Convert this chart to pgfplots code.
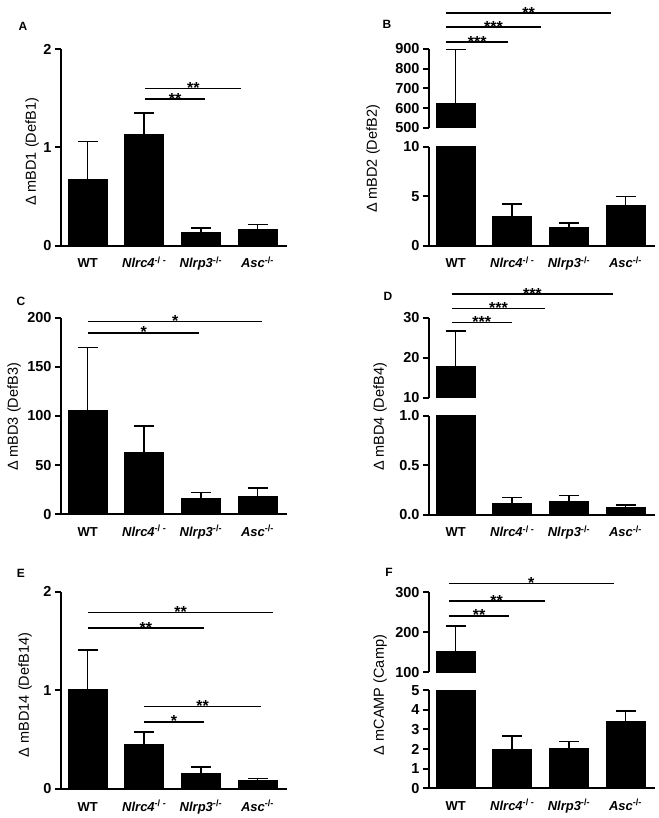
\documentclass[border=0pt]{standalone}
\usepackage{pgfplots}
\pgfplotsset{compat=1.18}
\usepackage{fontspec}
\setmainfont{Liberation Sans}
\newcommand{\fs}[1]{\fontsize{#1}{#1}\selectfont}
\pgfplotsset{
  panel/.style={
    scale only axis, width=226pt,
    xmin=-0.47, xmax=3.52,
    axis lines*=left,
    x axis line style={-, line width=2.4pt},
    y axis line style={-, line width=2.4pt},
    tick align=outside,
    major tick length=6pt,
    ytick style={line width=2pt, black},
    xtick style={draw=none},
    xtick={0,1,2,3},
    xticklabels={WT, \textit{Nlrc4}\textsuperscript{-/ -}, \textit{Nlrp3}\textsuperscript{-/-}, \textit{Asc}\textsuperscript{-/-}},
    xticklabel style={font=\bfseries\fs{13}, anchor=base, yshift=-16pt},
    yticklabel style={font=\bfseries\fs{14.5}},
    /pgf/number format/assume math mode=true,
    anchor=south west,
  },
  upper/.style={axis x line=none, xtick=\empty, clip=false},
  bars/.style={ybar, bar width=39pt, fill=black, draw=black, line width=1pt,
    error bars/.cd, y dir=plus, y explicit, error mark=|,
    error bar style={line width=1.6pt, black},
    error mark options={line width=1.6pt, black, mark size=10pt}},
  erronly/.style={draw=none, mark=none,
    error bars/.cd, y dir=plus, y explicit, error mark=|,
    error bar style={draw=black, line width=1.6pt},
    error mark options={draw=black, line width=1.6pt, mark size=10pt}},
  sig/.style={black, line width=1.5pt, mark=none},
}
\tikzset{star/.style={font=\bfseries\fs{16}, anchor=base, inner sep=0pt, yshift=-5pt},
  ylab/.style={rotate=90, font=\fs{14.5}},
  plab/.style={font=\bfseries\fs{12}}}
\begin{document}
\begin{tikzpicture}
\useasboundingbox (0pt,0pt) rectangle (658pt,818pt);
% ---------------- A ----------------
\begin{axis}[panel, at={(61pt,572pt)}, height=197pt, ymin=0, ymax=2, ytick={0,1,2}, clip=false]
\addplot[bars] coordinates {(0,0.67) +- (0,0.39) (1,1.13) +- (0,0.22) (2,0.14) +- (0,0.04) (3,0.17) +- (0,0.05)};
\addplot[sig] coordinates {(1.02,1.49) (2.07,1.49)};
\addplot[sig] coordinates {(1.02,1.60) (2.71,1.60)};
\node[star] at (axis cs:1.545,1.49) {**};
\node[star] at (axis cs:1.865,1.60) {**};
\end{axis}
\node[ylab] at (32pt,666pt) {Δ mBD1 (DefB1)};
\node[plab] at (23pt,792pt) {A};
% ---------------- B ----------------
\begin{axis}[panel, at={(429pt,572pt)}, height=99pt, ymin=0, ymax=10, ytick={0,5,10}]
\addplot[bars] coordinates {(0,625) +- (0,273) (1,2.93) +- (0,1.31) (2,1.89) +- (0,0.46) (3,4.07) +- (0,0.91)};
\end{axis}
\begin{axis}[panel, upper, at={(429pt,690pt)}, height=79pt, ymin=500, ymax=900, ytick={500,600,...,900}]
\addplot[fill=black, draw=black, line width=1pt] coordinates {(-0.344,500) (0.344,500) (0.344,625) (-0.344,625)} -- cycle;
\addplot[erronly] coordinates {(0,625) +- (0,273)};
\addplot[sig] coordinates {(-0.17,935) (0.93,935)};
\addplot[sig] coordinates {(-0.17,1011) (1.51,1011)};
\addplot[sig] coordinates {(-0.17,1082) (2.75,1082)};
\node[star] at (axis cs:0.38,935) {***};
\node[star] at (axis cs:0.67,1011) {***};
\node[star] at (axis cs:1.29,1082) {**};
\end{axis}
\node[ylab] at (373pt,659pt) {Δ mBD2 (DefB2)};
\node[plab] at (387pt,794pt) {B};
% ---------------- C ----------------
\begin{axis}[panel, at={(61pt,303.7pt)}, height=196.6pt, ymin=0, ymax=200, ytick={0,50,100,150,200}, clip=false]
\addplot[bars] coordinates {(0,106) +- (0,63.5) (1,62.7) +- (0,27.3) (2,15.9) +- (0,6.1) (3,17.9) +- (0,8.9)};
\addplot[sig] coordinates {(0.01,184.5) (1.97,184.5)};
\addplot[sig] coordinates {(0.01,196) (3.08,196)};
\node[star] at (axis cs:0.99,184.5) {*};
\node[star] at (axis cs:1.545,196) {*};
\end{axis}
\node[ylab] at (14pt,401pt) {Δ mBD3 (DefB3)};
\node[plab] at (21pt,517pt) {C};
% ---------------- D ----------------
\begin{axis}[panel, at={(429pt,303pt)}, height=99pt, ymin=0, ymax=1, ytick={0,0.5,1},
  yticklabel style={/pgf/number format/.cd, fixed, fixed zerofill, precision=1}]
\addplot[bars] coordinates {(0,17.75) +- (0,8.95) (1,0.118) +- (0,0.057) (2,0.134) +- (0,0.061) (3,0.074) +- (0,0.026)};
\end{axis}
\begin{axis}[panel, upper, at={(429pt,420.3pt)}, height=80pt, ymin=10, ymax=30, ytick={10,20,30}]
\addplot[fill=black, draw=black, line width=1pt] coordinates {(-0.344,10) (0.344,10) (0.344,17.75) (-0.344,17.75)} -- cycle;
\addplot[erronly] coordinates {(0,17.75) +- (0,8.95)};
\addplot[sig] coordinates {(-0.07,28.85) (0.99,28.85)};
\addplot[sig] coordinates {(-0.07,32.35) (1.58,32.35)};
\addplot[sig] coordinates {(-0.07,35.9) (2.78,35.9)};
\node[star] at (axis cs:0.46,28.85) {***};
\node[star] at (axis cs:0.755,32.35) {***};
\node[star] at (axis cs:1.355,35.9) {***};
\end{axis}
\node[ylab] at (380pt,401pt) {Δ mBD4 (DefB4)};
\node[plab] at (388pt,522pt) {D};
% ---------------- E ----------------
\begin{axis}[panel, at={(61pt,29pt)}, height=197.3pt, ymin=0, ymax=2, ytick={0,1,2}, clip=false]
\addplot[bars] coordinates {(0,1.01) +- (0,0.40) (1,0.45) +- (0,0.125) (2,0.162) +- (0,0.061) (3,0.084) +- (0,0.024)};
\addplot[sig] coordinates {(0.01,1.63) (2.05,1.63)};
\addplot[sig] coordinates {(0.01,1.79) (3.27,1.79)};
\addplot[sig] coordinates {(1.0,0.68) (2.05,0.68)};
\addplot[sig] coordinates {(1.0,0.835) (3.06,0.835)};
\node[star] at (axis cs:1.03,1.63) {**};
\node[star] at (axis cs:1.64,1.79) {**};
\node[star] at (axis cs:1.525,0.68) {*};
\node[star] at (axis cs:2.03,0.835) {**};
\end{axis}
\node[ylab] at (25pt,123pt) {Δ mBD14 (DefB14)};
\node[plab] at (21pt,245pt) {E};
% ---------------- F ----------------
\begin{axis}[panel, at={(429pt,29.7pt)}, height=98pt, ymin=0, ymax=5, ytick={0,1,2,3,4,5}]
\addplot[bars] coordinates {(0,153) +- (0,63) (1,2.0) +- (0,0.67) (2,2.04) +- (0,0.34) (3,3.40) +- (0,0.54)};
\end{axis}
\begin{axis}[panel, upper, at={(429pt,145.7pt)}, height=80pt, ymin=100, ymax=300, ytick={100,200,300}]
\addplot[fill=black, draw=black, line width=1pt] coordinates {(-0.344,100) (0.344,100) (0.344,153) (-0.344,153)} -- cycle;
\addplot[erronly] coordinates {(0,153) +- (0,63)};
\addplot[sig] coordinates {(-0.12,241) (0.95,241)};
\addplot[sig] coordinates {(-0.12,278) (1.57,278)};
\addplot[sig] coordinates {(-0.12,322) (2.79,322)};
\node[star] at (axis cs:0.415,241) {**};
\node[star] at (axis cs:0.725,278) {**};
\node[star] at (axis cs:1.335,322) {*};
\end{axis}
\node[ylab] at (380pt,123pt) {Δ mCAMP (Camp)};
\node[plab] at (389pt,246pt) {F};
\end{tikzpicture}
\end{document}
